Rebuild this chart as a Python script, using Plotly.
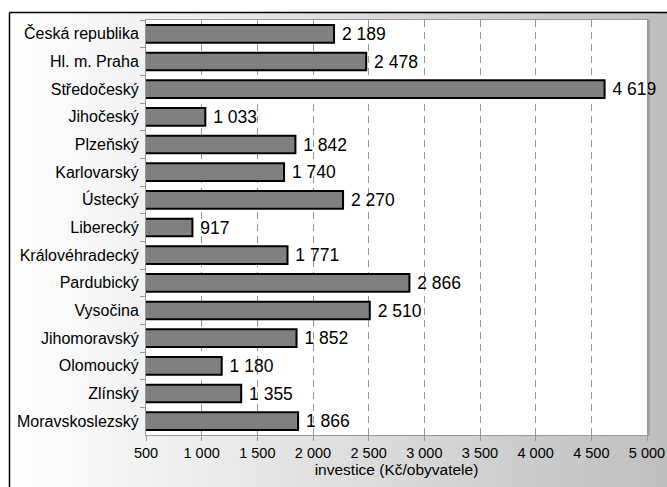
import plotly.graph_objects as go

# Investment per inhabitant by region (Kč/obyvatele)
regions = [
    "Česká republika", "Hl. m. Praha", "Středočeský", "Jihočeský", "Plzeňský",
    "Karlovarský", "Ústecký", "Liberecký", "Královéhradecký", "Pardubický",
    "Vysočina", "Jihomoravský", "Olomoucký", "Zlínský", "Moravskoslezský",
]
investment = [2189, 2478, 4619, 1033, 1842, 1740, 2270, 917, 1771, 2866,
              2510, 1852, 1180, 1355, 1866]
x_ticks = [500, 1000, 1500, 2000, 2500, 3000, 3500, 4000, 4500, 5000]
x_title = "investice (Kč/obyvatele)"

W, H = 667, 487
ML, MR, MT, MB = 146, 20, 20, 52
PW, PH = W - ML - MR, H - MT - MB
FONT = "Liberation Sans, Arial, sans-serif"


def fx(px):
    return (px - ML) / PW


def fy(py):
    return (H - MB - py) / PH


def fmt(v):
    return " " + f"{v:,}".replace(",", " ")


fig = go.Figure()
fig.add_trace(go.Bar(
    y=regions, x=investment, orientation="h", base=0,
    marker=dict(color="#808080", line=dict(color="#000000", width=2)),
    text=[fmt(v) for v in investment], textposition="outside",
    constraintext="none",
    textfont=dict(family=FONT, size=17.5, color="#000000"),
    cliponaxis=False, hoverinfo="skip",
))

shapes = []
# horizontal grey gradient inside the chart frame
x_start, x_end, n = 9.0, float(W), 80
step = (x_end - x_start) / n
for i in range(n):
    t = (i + 0.5) / n
    g = round(255 - t * (255 - 190))
    shapes.append(dict(
        type="rect", xref="paper", yref="paper", layer="below",
        x0=fx(x_start + i * step), x1=fx(x_start + (i + 1) * step + 0.6),
        y0=fy(H + 5), y1=fy(12), line=dict(width=0),
        fillcolor=f"rgb({g},{g},{g})",
    ))
# white plot area
shapes.append(dict(type="rect", xref="paper", yref="paper", layer="below",
                   x0=0, x1=1, y0=0, y1=1, line=dict(width=0), fillcolor="#ffffff"))
# shadow on the right edge of the plot area (kept under the value labels)
shapes.append(dict(type="line", xref="paper", yref="paper", layer="below",
                   x0=fx(648.5), x1=fx(648.5), y0=fy(436), y1=fy(19.5),
                   line=dict(color="#a0a0a0", width=3)))
# black chart frame
shapes.append(dict(type="line", xref="paper", yref="paper", layer="above",
                   x0=fx(9.5), x1=fx(9.5), y0=fy(H + 5), y1=fy(12.5),
                   line=dict(color="#000000", width=1.5)))
shapes.append(dict(type="line", xref="paper", yref="paper", layer="above",
                   x0=fx(9.5), x1=fx(W + 5), y0=fy(12.5), y1=fy(12.5),
                   line=dict(color="#000000", width=1.5)))

fig.update_layout(
    width=W, height=H,
    margin=dict(l=ML, r=MR, t=MT, b=MB, autoexpand=False),
    paper_bgcolor="#ffffff", plot_bgcolor="#ffffff",
    separators=", ",
    bargap=0.36,
    showlegend=False,
    shapes=shapes,
    font=dict(family=FONT, color="#000000"),
    xaxis=dict(
        range=[500, 5000], tickvals=x_ticks, tickformat=",d",
        tickfont=dict(size=14.5), ticks="outside", ticklen=5, tickcolor="#999999",
        showline=True, linecolor="#999999", linewidth=1, mirror=True,
        showgrid=True, gridcolor="#999999", griddash="7px,5px", gridwidth=1,
        zeroline=False,
        title=dict(text=x_title, font=dict(size=15.5), standoff=0),
    ),
    yaxis=dict(
        autorange="reversed", tickfont=dict(size=16),
        ticks="outside", ticklen=5, tickcolor="#999999", tickson="boundaries",
        ticklabelstandoff=3,
        showline=True, linecolor="#999999", linewidth=1, mirror=True,
        showgrid=False,
    ),
)

fig.write_html("out.html")
